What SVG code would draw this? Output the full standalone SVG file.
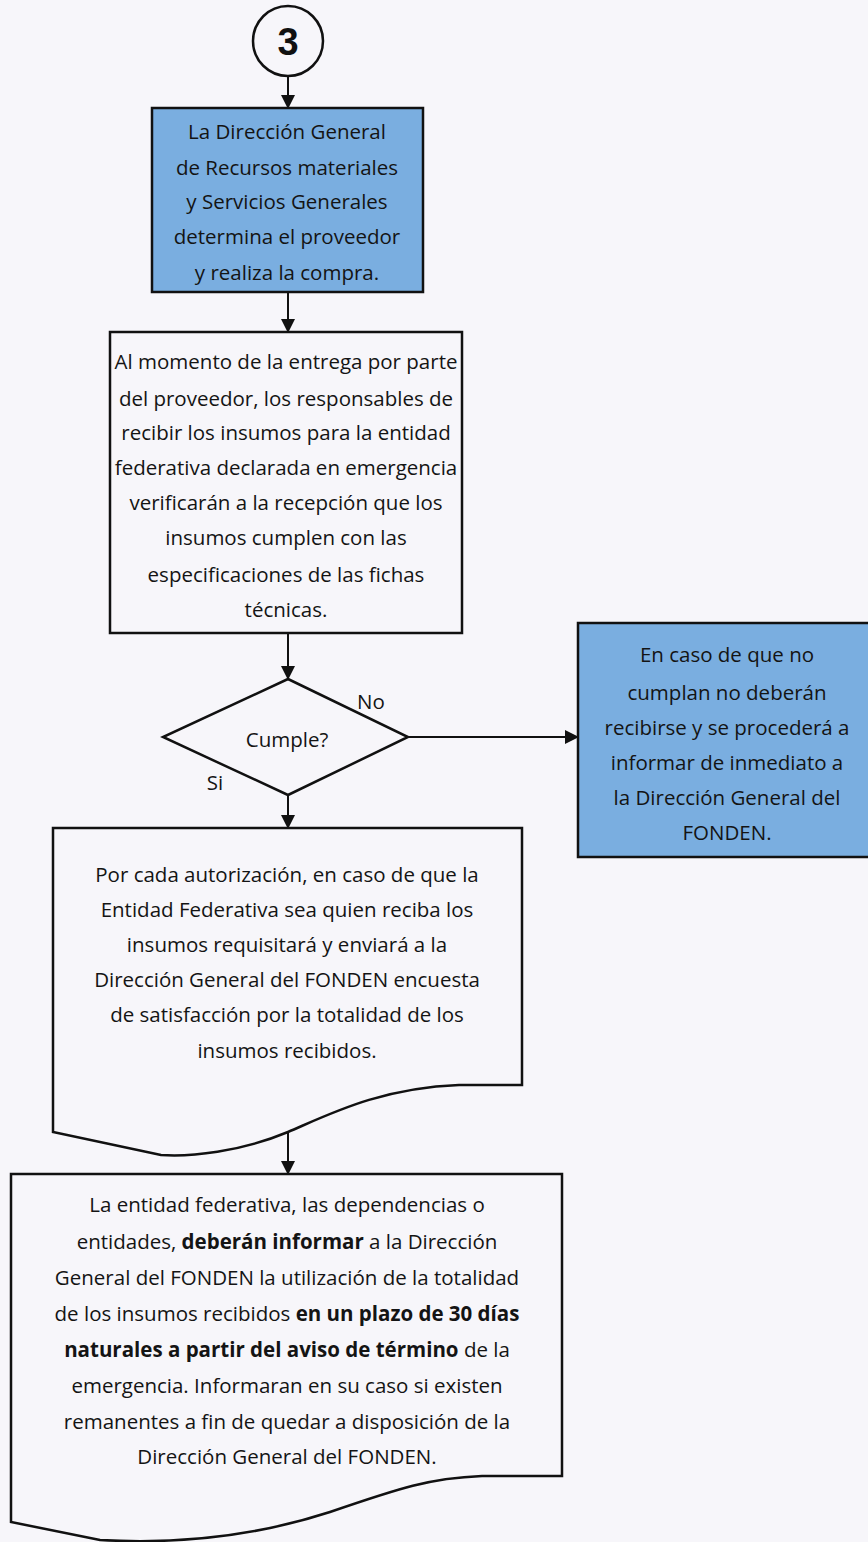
<svg xmlns="http://www.w3.org/2000/svg" width="868" height="1542" viewBox="0 0 868 1542">
<defs>
<marker id="arr" markerWidth="14" markerHeight="14" refX="13" refY="7" orient="auto" markerUnits="userSpaceOnUse">
<path d="M0,0 L14,7 L0,14 z" fill="#111"/>
</marker>
</defs>
<style>
.box{fill:#f7f6fa;stroke:#111;stroke-width:2.5}
.blue{fill:#7aaee0;stroke:#111;stroke-width:2.5}
.t{font-family:"Open Sans","Liberation Sans",sans-serif;font-size:20.5px;fill:#141414;text-anchor:middle}
.b{font-weight:bold}
.c{stroke:#111;stroke-width:2;fill:none}
</style>
<rect x="0" y="0" width="868" height="1542" fill="#f7f6fa"/>
<g id="connectors">
<line class="c" x1="288" y1="76" x2="288" y2="108" marker-end="url(#arr)"/>
<line class="c" x1="288" y1="292" x2="288" y2="332" marker-end="url(#arr)"/>
<line class="c" x1="288" y1="633" x2="288" y2="679" marker-end="url(#arr)"/>
<line class="c" x1="408" y1="737" x2="578" y2="737" marker-end="url(#arr)"/>
<line class="c" x1="288" y1="795" x2="288" y2="828" marker-end="url(#arr)"/>
<line class="c" x1="288" y1="1132" x2="288" y2="1174" marker-end="url(#arr)"/>
</g>
<g id="n0">
<circle cx="288" cy="41" r="35" fill="#f7f6fa" stroke="#111" stroke-width="2.5"/>
<text x="288" y="55" font-family="Liberation Sans, Arial, sans-serif" font-size="38" font-weight="bold" text-anchor="middle" fill="#111">3</text>
</g>
<g id="n1">
<rect class="blue" x="152" y="108" width="271" height="184"/>
<text class="t" x="287" y="139">La Dirección General</text>
<text class="t" x="287" y="175">de Recursos materiales</text>
<text class="t" x="287" y="209">y Servicios Generales</text>
<text class="t" x="287" y="244">determina el proveedor</text>
<text class="t" x="287" y="280">y realiza la compra.</text>
</g>
<g id="n2">
<rect class="box" x="110" y="332" width="352" height="301"/>
<text class="t" x="286" y="369">Al momento de la entrega por parte</text>
<text class="t" x="286" y="406">del proveedor, los responsables de</text>
<text class="t" x="286" y="440">recibir los insumos para la entidad</text>
<text class="t" x="286" y="475">federativa declarada en emergencia</text>
<text class="t" x="286" y="510">verificarán a la recepción que los</text>
<text class="t" x="286" y="545">insumos cumplen con las</text>
<text class="t" x="286" y="582">especificaciones de las fichas</text>
<text class="t" x="286" y="617">técnicas.</text>
</g>
<g id="n3">
<polygon class="box" points="288,679 408,737 288,795 163,737"/>
<text class="t" x="287" y="747">Cumple?</text>
<text class="t" x="371" y="709">No</text>
<text class="t" x="215" y="790">Si</text>
</g>
<g id="n4">
<rect class="blue" x="578" y="623" width="300" height="234"/>
<text class="t" x="727" y="662">En caso de que no</text>
<text class="t" x="727" y="700">cumplan no deberán</text>
<text class="t" x="727" y="735">recibirse y se procederá a</text>
<text class="t" x="727" y="770">informar de inmediato a</text>
<text class="t" x="727" y="805">la Dirección General del</text>
<text class="t" x="727" y="840">FONDEN.</text>
</g>
<g id="n5">
<path class="box" d="M53,828 H522 V1085 H459 C380,1088 330,1114 288,1132 C240,1152 190,1157 161,1155 L53,1132 Z"/>
<text class="t" x="287" y="882">Por cada autorización, en caso de que la</text>
<text class="t" x="287" y="917">Entidad Federativa sea quien reciba los</text>
<text class="t" x="287" y="952">insumos requisitará y enviará a la</text>
<text class="t" x="287" y="987">Dirección General del FONDEN encuesta</text>
<text class="t" x="287" y="1022">de satisfacción por la totalidad de los</text>
<text class="t" x="287" y="1058">insumos recibidos.</text>
</g>
<g id="n6">
<path class="box" d="M11,1174 H562 V1476 H482 C430,1478 400,1488 330,1512 C250,1538 170,1544 100,1540 L11,1522 Z"/>
<text class="t" x="287" y="1212">La entidad federativa, las dependencias o</text>
<text class="t" x="287" y="1249">entidades, <tspan class="b">deberán informar</tspan> a la Dirección</text>
<text class="t" x="287" y="1285">General del FONDEN la utilización de la totalidad</text>
<text class="t" x="287" y="1321">de los insumos recibidos <tspan class="b">en un plazo de 30 días</tspan></text>
<text class="t" x="287" y="1357"><tspan class="b">naturales a partir del aviso de término</tspan> de la</text>
<text class="t" x="287" y="1393">emergencia. Informaran en su caso si existen</text>
<text class="t" x="287" y="1429">remanentes a fin de quedar a disposición de la</text>
<text class="t" x="287" y="1464">Dirección General del FONDEN.</text>
</g>
</svg>
